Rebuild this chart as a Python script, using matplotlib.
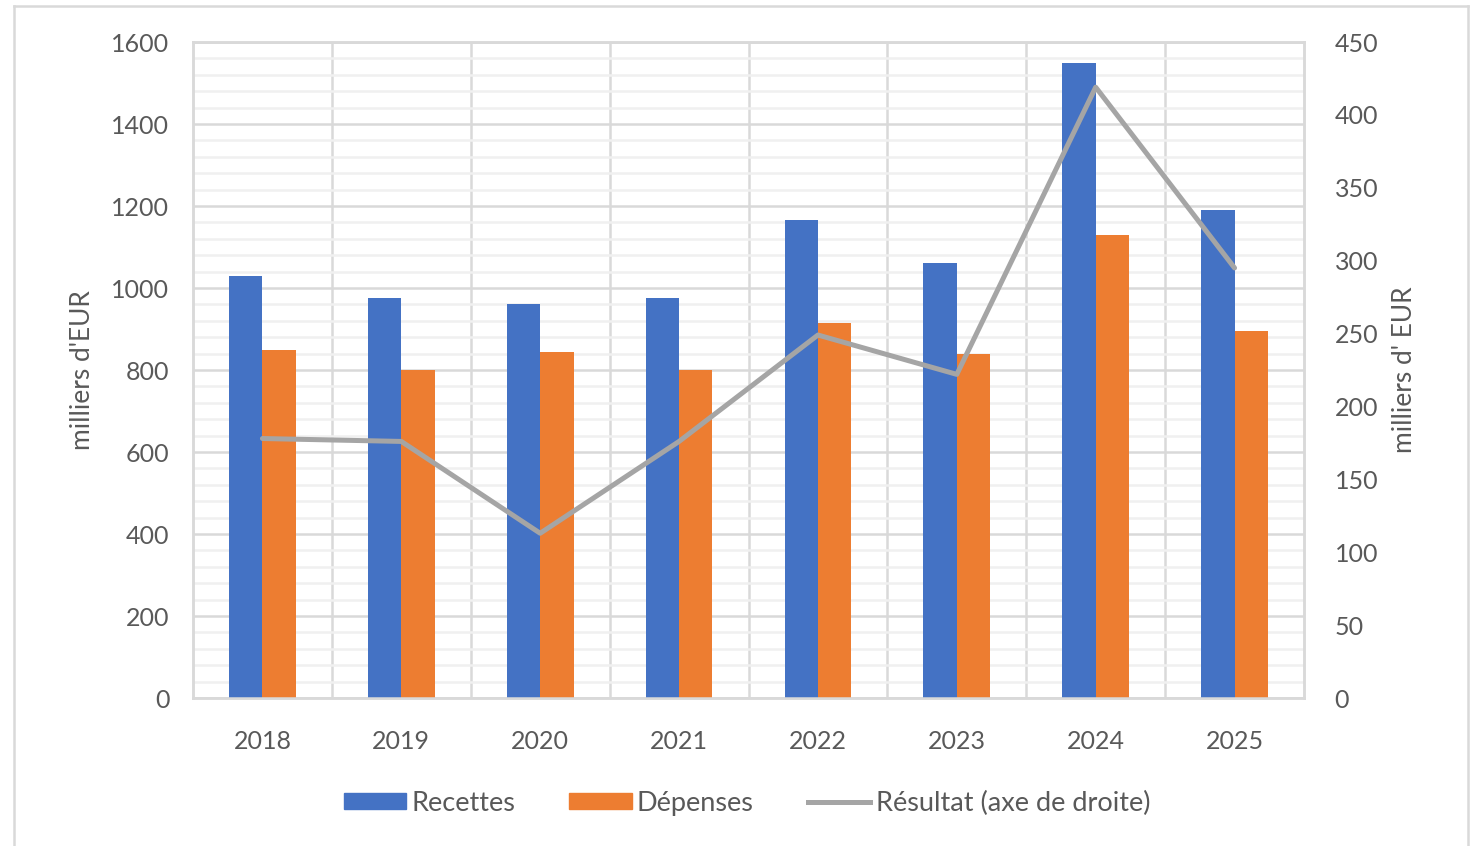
import matplotlib
matplotlib.use("Agg")
import matplotlib.pyplot as plt
import numpy as np
from matplotlib.patches import Patch
from matplotlib.lines import Line2D
from matplotlib.ticker import MultipleLocator

# data
years = ["2018", "2019", "2020", "2021", "2022", "2023", "2024", "2025"]
recettes = [1030, 975, 960, 975, 1165, 1060, 1550, 1190]
depenses = [850, 800, 845, 800, 915, 840, 1130, 895]
resultat = [178, 176, 113, 176, 249, 222, 419, 295]

plt.rcParams['font.family'] = ['Lato', 'DejaVu Sans']
txt = "#595959"
grid_major = "#D9D9D9"
grid_minor = "#F0F0F0"

fig = plt.figure(figsize=(14.76, 8.46), dpi=100)
ax = fig.add_axes([193/1476, 1-698/846, (1304-193)/1476, (698-42)/846])
ax2 = ax.twinx()

x = np.arange(len(years))
w = 0.24
ax.bar(x - w/2, recettes, w, color="#4472C4", zorder=3)
ax.bar(x + w/2, depenses, w, color="#ED7D31", zorder=3)
ax2.plot(x, resultat, color="#A5A5A5", lw=3.6, zorder=4, solid_capstyle="round")

ax.set_xlim(-0.5, len(years) - 0.5)
ax.set_ylim(0, 1600)
ax2.set_ylim(0, 450)
ax.yaxis.set_major_locator(MultipleLocator(200))
ax.yaxis.set_minor_locator(MultipleLocator(40))
ax2.yaxis.set_major_locator(MultipleLocator(50))

# gridlines
ax.grid(which="major", axis="y", color=grid_major, lw=1.8, zorder=0)
ax.grid(which="minor", axis="y", color=grid_minor, lw=1.8, zorder=0)
for b in np.arange(0.5, len(years) - 0.5, 1):
    ax.axvline(b, color=grid_major, lw=1.8, zorder=1)

for a in (ax, ax2):
    for s in a.spines.values():
        s.set_color(grid_major)
        s.set_linewidth(1.8)
    a.tick_params(length=0, colors=txt, labelsize=18)
    a.tick_params(which="minor", length=0)
ax.tick_params(axis="y", pad=17)
ax2.tick_params(axis="y", pad=22)
ax.tick_params(axis="x", pad=23)
ax.set_xticks(x)
ax.set_xticklabels(years)
ax2.patch.set_visible(False)

ax.set_ylabel("milliers d'EUR", color=txt, fontsize=19, labelpad=12)
ax2.set_ylabel("milliers d' EUR", color=txt, fontsize=19, labelpad=10)

handles = [Patch(color="#4472C4"), Patch(color="#ED7D31"),
           Line2D([], [], color="#A5A5A5", lw=3.6)]
fig.legend(handles, ["Recettes", "Dépenses", "Résultat (axe de droite)"],
           loc="center", bbox_to_anchor=(0.506, 1-803/846), ncol=3,
           frameon=False, fontsize=19.5, labelcolor=txt, handlelength=2.3,
           handleheight=0.55, handletextpad=0.2, columnspacing=2.0)

# outer chart border
fig.add_artist(Line2D([14/1476, 14/1476], [0, 1-6/846], color=grid_major, lw=1.8))
fig.add_artist(Line2D([14/1476, 1468/1476], [1-6/846, 1-6/846], color=grid_major, lw=1.8))
fig.add_artist(Line2D([1468/1476, 1468/1476], [0, 1-6/846], color=grid_major, lw=1.8))

fig.savefig("out.png", dpi=100)
